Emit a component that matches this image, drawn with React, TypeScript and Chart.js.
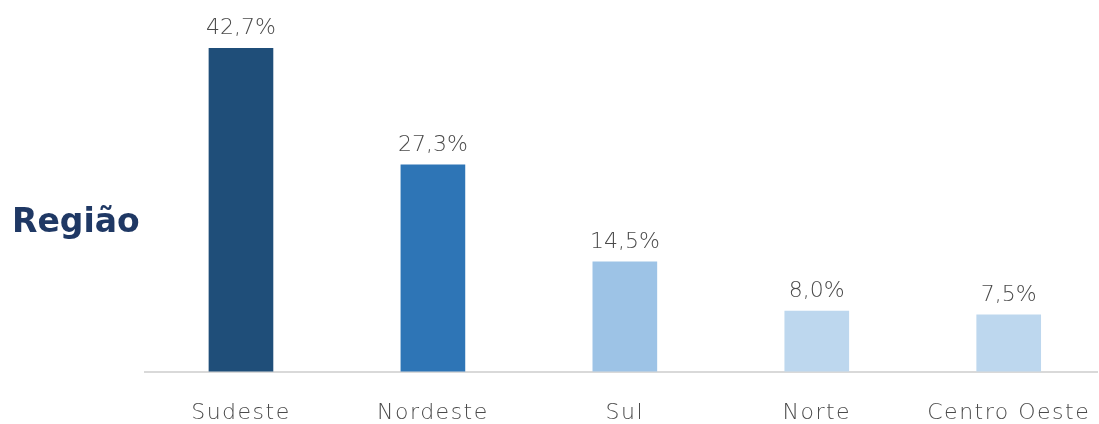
import React, { useEffect, useRef } from "react";
import { Chart, registerables } from "chart.js";

Chart.register(...registerables);

const categories = ["Sudeste", "Nordeste", "Sul", "Norte", "Centro Oeste"];
const values = [42.7, 27.3, 14.5, 8.0, 7.5];
const valueLabels = ["42,7%", "27,3%", "14,5%", "8,0%", "7,5%"];
const barColors = ["#1F4E79", "#2E75B6", "#9DC3E6", "#BDD7EE", "#BDD7EE"];
const positions = [0, 1, 2, 3, 4];

const FONT = "'DejaVu Sans', 'Open Sans', sans-serif";

const spacingPlugin = {
  id: "letterSpacing",
  beforeDraw(chart: any) {
    chart.ctx.letterSpacing = "1.5px";
  },
};

const valueLabelPlugin = {
  id: "valueLabels",
  afterDatasetsDraw(chart: any) {
    const ctx = chart.ctx;
    const meta = chart.getDatasetMeta(0);
    ctx.save();
    ctx.letterSpacing = "0px";
    ctx.font = `300 22px ${FONT}`;
    ctx.fillStyle = "#4a4a4a";
    ctx.textAlign = "center";
    ctx.textBaseline = "middle";
    meta.data.forEach((bar: any, i: number) => {
      ctx.fillText(valueLabels[i], bar.x, bar.y - 20);
    });
    ctx.restore();
  },
};

export default function App() {
  const ref = useRef<HTMLCanvasElement | null>(null);
  useEffect(() => {
    if (!ref.current) return;
    const chart = new Chart(ref.current, {
      type: "bar",
      data: {
        datasets: [
          {
            data: positions.map((p, i) => ({ x: p, y: values[i] })),
            backgroundColor: barColors,
            barThickness: 64,
          },
        ],
      },
      options: {
        animation: false,
        responsive: false,
        maintainAspectRatio: false,
        layout: { padding: { left: 145, right: 2, top: 0, bottom: -30 } },
        plugins: { legend: { display: false }, tooltip: { enabled: false } },
        scales: {
          x: {
            type: "linear",
            offset: false,
            min: -0.5,
            max: 4.46,
            grid: { display: false, drawTicks: false },
            border: { display: true, color: "#D9D9D9", width: 2 },
            afterBuildTicks: (axis: any) => {
              axis.ticks = positions.map((p) => ({ value: p }));
            },
            afterFit: (axis: any) => {
              axis.paddingLeft = 0;
              axis.paddingRight = 0;
            },
            ticks: {
              padding: 28,
              color: "#4a4a4a",
              font: { family: FONT, size: 22, weight: 300 },
              callback: (v: any) => categories[Math.round(Number(v))] ?? "",
              maxRotation: 0,
              autoSkip: false,
            },
          },
          y: {
            display: false,
            min: 0,
            max: 49.07,
          },
        },
      },
      plugins: [spacingPlugin, valueLabelPlugin],
    });
    return () => chart.destroy();
  }, []);
  return (
    <div style={{ position: "fixed", left: 0, top: 0, width: 1099, height: 424, background: "#fff", overflow: "hidden" }}>
      <canvas ref={ref} width={1099} height={424} style={{ position: "absolute", left: 0, top: 0 }} />
      <div
        style={{
          position: "absolute",
          left: 12,
          top: 200,
          fontFamily: FONT,
          fontWeight: 700,
          fontSize: 33,
          color: "#1F3864",
          lineHeight: "42px",
        }}
      >
        Região
      </div>
    </div>
  );
}
